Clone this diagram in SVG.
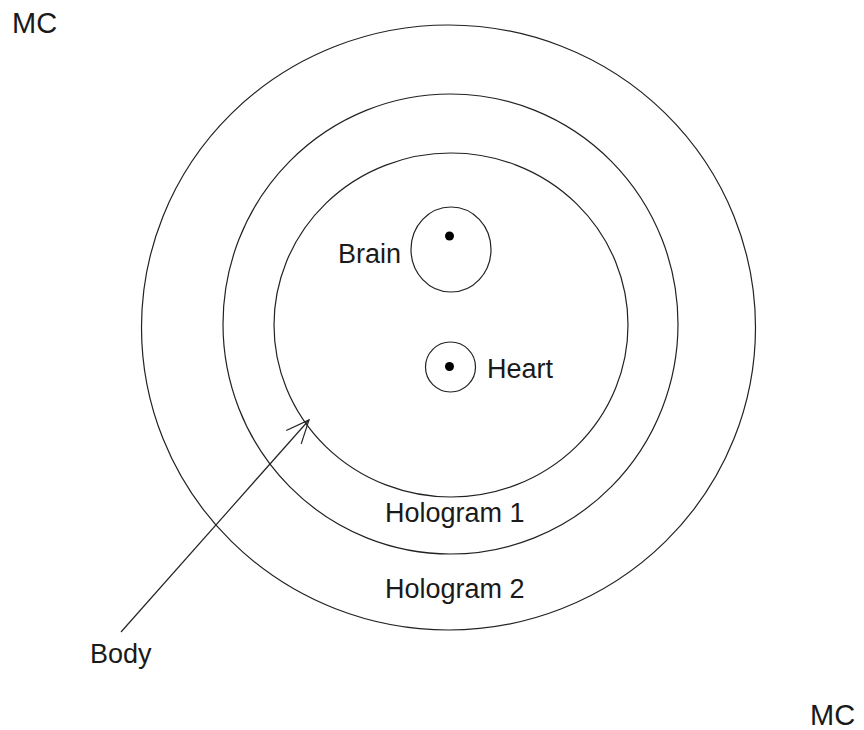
<svg xmlns="http://www.w3.org/2000/svg" width="864" height="730" viewBox="0 0 864 730">
<style>
.c{fill:none;stroke:#222;stroke-width:1.2}
.d{fill:#000}
.t{font-family:"Liberation Sans",Arial,sans-serif;font-size:27px;fill:#1a1a1a}
.mc{font-size:29px}
.ln{fill:none;stroke:#222;stroke-width:1.2}
</style>
<defs>
<marker id="open" markerUnits="userSpaceOnUse" markerWidth="30" markerHeight="30" viewBox="-26 -13 30 26" refX="0" refY="0" orient="auto">
<path d="M-23,-10 L0,0 L-23,10" fill="none" stroke="#222" stroke-width="1.2"/>
</marker>
</defs>
<rect width="864" height="730" fill="#fff"/>
<g id="mc-top"><text class="t mc" x="12" y="33">MC</text></g>
<g id="mc-bottom"><text class="t mc" x="810" y="725">MC</text></g>
<g id="hologram2"><ellipse class="c" cx="448.5" cy="327.5" rx="307" ry="302.5"/><text class="t" x="385" y="598">Hologram 2</text></g>
<g id="hologram1"><ellipse class="c" cx="450.5" cy="324" rx="227.5" ry="230"/><text class="t" x="385" y="522">Hologram 1</text></g>
<g id="body"><ellipse class="c" cx="451" cy="325" rx="177" ry="172"/><text class="t" x="90" y="663">Body</text></g>
<g id="brain"><ellipse class="c" cx="451" cy="249.5" rx="40" ry="42.5"/><circle class="d" cx="449.5" cy="236" r="4.5"/><text class="t" x="401" y="263" text-anchor="end">Brain</text></g>
<g id="heart"><circle class="c" cx="450.5" cy="367" r="25"/><circle class="d" cx="449.5" cy="366.5" r="4.5"/><text class="t" x="487" y="378">Heart</text></g>
<g id="connectors"><path class="ln" d="M121,632 L309,420" marker-end="url(#open)"/></g>
</svg>
